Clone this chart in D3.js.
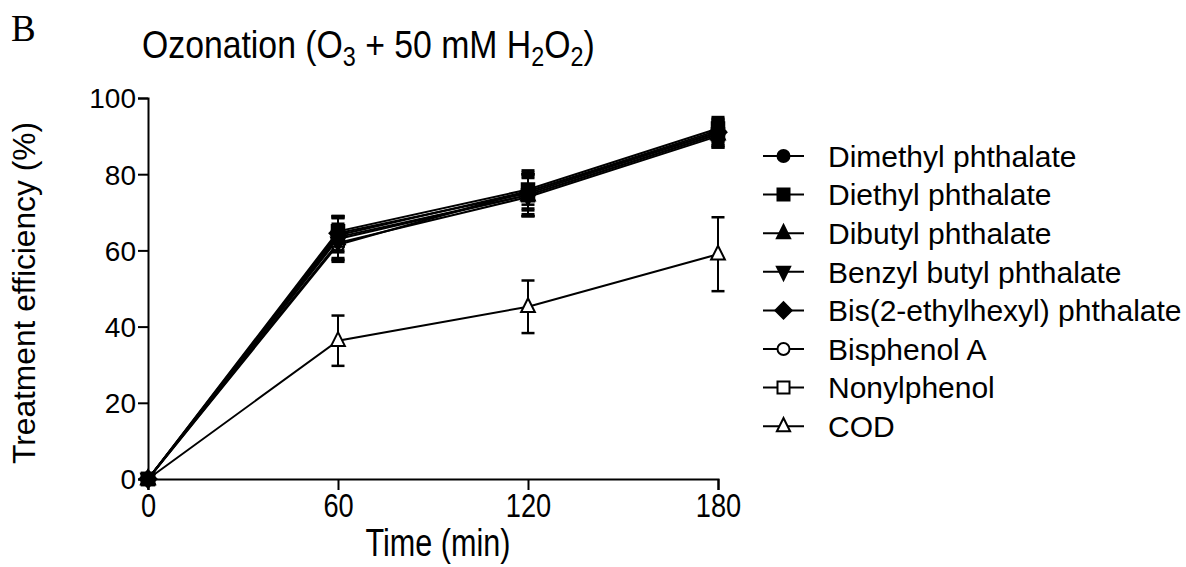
<!DOCTYPE html>
<html>
<head>
<meta charset="utf-8">
<script src="https://cdn.jsdelivr.net/npm/d3@7"></script>
<style>
  html, body { margin: 0; padding: 0; background: #fff; }
  svg { display: block; }
  text { font-family: "Liberation Sans", Arial, sans-serif; fill: #000; }
</style>
</head>
<body>
<svg id="chart" width="1186" height="567"></svg>
<script>
// ---------------- data ----------------
const times = [0, 60, 120, 180];
const xTicks = [0, 60, 120, 180];
const yTicks = [0, 20, 40, 60, 80, 100];
const seriesNames = ["Dimethyl phthalate", "Diethyl phthalate", "Dibutyl phthalate",
  "Benzyl butyl phthalate", "Bis(2-ethylhexyl) phthalate", "Bisphenol A", "Nonylphenol", "COD"];
const dmp  = [0, 64.0, 75.5, 91.5];
const dep  = [0, 65.0, 76.0, 92.0];
const dbp  = [0, 63.0, 74.5, 90.5];
const bbp  = [0, 62.0, 74.0, 90.0];
const dehp = [0, 64.5, 75.0, 91.0];
const bpa  = [0, 61.5, 75.5, 91.0];
const np   = [0, 63.5, 74.5, 90.5];
const cod  = [0, 36.3, 45.2, 59.0];
const dmpErr  = [0, 4.5, 4.5, 3.0];
const depErr  = [0, 4.0, 4.0, 3.0];
const dbpErr  = [0, 5.5, 5.5, 3.5];
const bbpErr  = [0, 5.0, 5.0, 3.0];
const dehpErr = [0, 4.5, 6.0, 3.5];
const bpaErr  = [0, 4.0, 5.0, 3.0];
const npErr   = [0, 5.5, 5.0, 3.0];
const codErr  = [0, 6.6, 6.9, 9.7];

const symbols = ["circle", "square", "triangle", "triangleDown", "diamond", "circle", "square", "triangle"];
const filled  = [true, true, true, true, true, false, false, false];

const values = [dmp, dep, dbp, bbp, dehp, bpa, np, cod];
const errors = [dmpErr, depErr, dbpErr, bbpErr, dehpErr, bpaErr, npErr, codErr];
const series = seriesNames.map((name, i) => ({
  name, sym: symbols[i], fill: filled[i],
  pts: times.map((t, j) => ({ t, v: values[i][j], e: errors[i][j] }))
}));

// ---------------- layout ----------------
const svg = d3.select("#chart");
const X0 = 148, X1 = 718, Y0 = 479, Y1 = 98;
const x = d3.scaleLinear().domain([0, 180]).range([X0, X1]);
const y = d3.scaleLinear().domain([0, 100]).range([Y0, Y1]);

function markerPath(sym, s) {
  const h = s / 2;
  switch (sym) {
    case "circle": return d3.symbol().type(d3.symbolCircle).size(Math.PI * h * h)();
    case "square": return `M${-h},${-h}H${h}V${h}H${-h}Z`;
    case "triangle": { const a = s * 1.1; return `M0,${-a*0.62}L${a/2},${a*0.38}L${-a/2},${a*0.38}Z`; }
    case "triangleDown": { const a = s * 1.1; return `M0,${a*0.62}L${a/2},${-a*0.38}L${-a/2},${-a*0.38}Z`; }
    case "diamond": { const a = s * 0.68; return `M0,${-a}L${a},0L0,${a}L${-a},0Z`; }
  }
}

function fitText(g, target) {
  const w = g.node().getBBox().width;
  return target / w;
}

// ---------------- axes ----------------
const xAxis = d3.axisBottom(x).tickValues(xTicks).tickSize(11).tickFormat(d3.format("d"));
const gx = svg.append("g").attr("transform", `translate(0,${Y0})`).call(xAxis);
gx.select(".domain").attr("stroke", "#000").attr("stroke-width", 2);
gx.selectAll(".tick line").attr("stroke", "#000").attr("stroke-width", 2);
gx.selectAll(".tick text").remove();
gx.selectAll(".tick").each(function(d) {
  const g = d3.select(this).append("g").attr("transform", "translate(0,38)");
  g.append("text").attr("text-anchor", "middle").attr("font-size", 34)
    .attr("transform", "scale(0.8,1)").text(d);
});

const yAxis = d3.axisLeft(y).tickValues(yTicks).tickSize(10).tickFormat(d3.format("d"));
const gy = svg.append("g").attr("transform", `translate(${X0},0)`).call(yAxis);
gy.select(".domain").attr("stroke", "#000").attr("stroke-width", 2);
gy.selectAll(".tick line").attr("stroke", "#000").attr("stroke-width", 2);
gy.selectAll(".tick text").attr("font-size", 28).attr("font-family", "Liberation Sans, Arial, sans-serif")
  .attr("x", -12).attr("dy", "0.35em").attr("fill", "#000");
gy.attr("font-size", null).attr("font-family", null);
gx.attr("font-size", null).attr("font-family", null);

// ---------------- data marks ----------------
const line = d3.line().x(d => x(d.t)).y(d => y(d.v));
const plot = svg.append("g");
series.slice().reverse().forEach(s => {
  plot.append("path").attr("d", line(s.pts)).attr("fill", "none")
    .attr("stroke", "#000").attr("stroke-width", 2);
});
series.slice().reverse().forEach(s => {
  const g = plot.append("g");
  s.pts.filter(p => p.e > 0).forEach(p => {
    g.append("line").attr("x1", x(p.t)).attr("x2", x(p.t))
      .attr("y1", y(p.v - p.e)).attr("y2", y(p.v + p.e))
      .attr("stroke", "#000").attr("stroke-width", 2);
    [p.v - p.e, p.v + p.e].forEach(v => {
      g.append("line").attr("x1", x(p.t) - 6.5).attr("x2", x(p.t) + 6.5)
        .attr("y1", y(v)).attr("y2", y(v)).attr("stroke", "#000").attr("stroke-width", 2.5);
    });
  });
  s.pts.forEach(p => {
    g.append("path").attr("d", markerPath(s.sym, 12.5))
      .attr("transform", `translate(${x(p.t)},${y(p.v)})`)
      .attr("fill", s.fill ? "#000" : "#fff").attr("stroke", "#000").attr("stroke-width", 2);
  });
});

// ---------------- legend ----------------
const legX = 763, legY0 = 156, legDy = 38.6;
const leg = svg.append("g");
series.forEach((s, i) => {
  const yy = legY0 + i * legDy;
  leg.append("line").attr("x1", legX).attr("x2", legX + 41).attr("y1", yy).attr("y2", yy)
    .attr("stroke", "#000").attr("stroke-width", 2);
  leg.append("path").attr("d", markerPath(s.sym, 12))
    .attr("transform", `translate(${legX + 20.5},${yy})`)
    .attr("fill", s.fill ? "#000" : "#fff").attr("stroke", "#000").attr("stroke-width", 2);
  leg.append("text").attr("x", 828).attr("y", yy).attr("dy", "0.36em")
    .attr("font-size", 30).text(s.name);
});

// ---------------- titles ----------------
svg.append("text").attr("x", 11).attr("y", 41).attr("font-size", 37)
  .style("font-family", "'Liberation Serif', 'Times New Roman', serif").text("B");

const tg = svg.append("g").attr("transform", "translate(142,58)");
const tt = tg.append("text").attr("font-size", 39);
tt.append("tspan").text("Ozonation (O");
tt.append("tspan").attr("font-size", 27).attr("dy", 8).text("3");
tt.append("tspan").attr("dy", -8).text(" + 50 mM H");
tt.append("tspan").attr("font-size", 27).attr("dy", 8).text("2");
tt.append("tspan").attr("dy", -8).text("O");
tt.append("tspan").attr("font-size", 27).attr("dy", 8).text("2");
tt.append("tspan").attr("dy", -8).text(")");
tt.attr("transform", `scale(${fitText(tt, 453)},1)`);

const xg = svg.append("g").attr("transform", "translate(438,556)");
const xt = xg.append("text").attr("text-anchor", "middle").attr("font-size", 38).text("Time (min)");
xt.attr("transform", `scale(${fitText(xt, 145)},1)`);

const yg = svg.append("g").attr("transform", "translate(35,293) rotate(-90)");
const ylab = yg.append("text").attr("text-anchor", "middle").attr("font-size", 31).text("Treatment efficiency (%)");
ylab.attr("transform", `scale(${fitText(ylab, 342)},1)`);
</script>
</body>
</html>
